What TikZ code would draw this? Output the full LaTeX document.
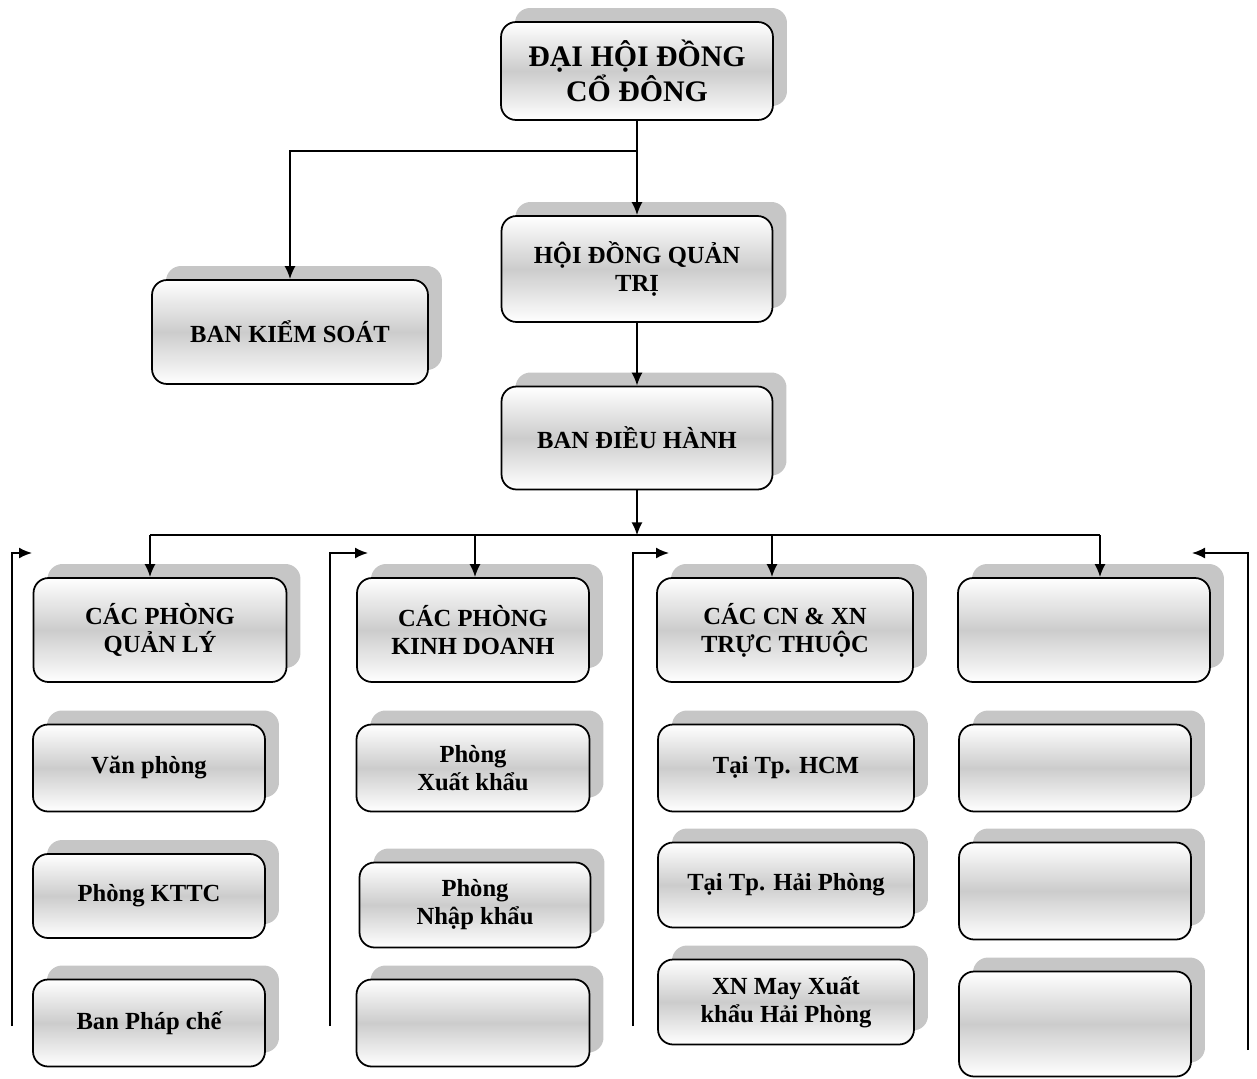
\documentclass[tikz,border=0pt]{standalone}
\usepackage{fontspec}
\setmainfont{Liberation Serif}
\usetikzlibrary{arrows.meta,shadows}
\begin{document}
\begin{tikzpicture}[>={Latex[length=2.6mm,width=2.2mm]},x=0.02cm,y=-0.02cm,line width=1pt]
	\tikzset{
		khung/.style={draw,rounded corners=0.3cm,top color=white,bottom color=white,middle color=gray!40,
			general shadow={shadow xshift=0.28cm,shadow yshift=0.28cm,fill=gray!45},
			font=\bfseries\fontsize{14}{16}\selectfont,align=center,inner sep=2pt},
	}
	\useasboundingbox (0,0) rectangle (1257,1078);
	% cấp trên
	\node[khung,minimum width=5.44cm,minimum height=1.96cm,font=\bfseries\fontsize{17}{20}\selectfont] (dhcd) at (637,71) {ĐẠI HỘI ĐỒNG\\CỔ ĐÔNG};
	\node[khung,minimum width=5.42cm,minimum height=2.12cm] (hdqt) at (637,269) {HỘI ĐỒNG QUẢN\\TRỊ};
	\node[khung,minimum width=5.52cm,minimum height=2.08cm] (bks) at (290,332) {BAN KIỂM SOÁT};
	\node[khung,minimum width=5.42cm,minimum height=2.06cm] (bdh) at (637,438) {BAN ĐIỀU HÀNH};
	% các khối phòng ban
	\node[khung,minimum width=5.06cm,minimum height=2.08cm] (pql) at (160,630) {CÁC PHÒNG\\QUẢN LÝ};
	\node[khung,minimum width=4.64cm,minimum height=2.08cm] (pkd) at (473,630) {CÁC PHÒNG\\KINH DOANH};
	\node[khung,minimum width=5.12cm,minimum height=2.08cm] (pcn) at (785,630) {CÁC CN \& XN\\TRỰC THUỘC};
	\node[khung,minimum width=5.04cm,minimum height=2.08cm] (pkhac) at (1084,630) {};
	% cột 1
	\node[khung,minimum width=4.64cm,minimum height=1.74cm] (vp) at (149,768) {Văn phòng};
	\node[khung,minimum width=4.64cm,minimum height=1.68cm] (kttc) at (149,896) {Phòng KTTC};
	\node[khung,minimum width=4.64cm,minimum height=1.74cm] (bpc) at (149,1023) {Ban Pháp chế};
	% cột 2
	\node[khung,minimum width=4.66cm,minimum height=1.74cm] (pxk) at (473,768) {Phòng\\Xuất khẩu};
	\node[khung,minimum width=4.62cm,minimum height=1.7cm] (pnk) at (475,905) {Phòng\\Nhập khẩu};
	\node[khung,minimum width=4.66cm,minimum height=1.74cm] (pkd3) at (473,1023) {};
	% cột 3
	\node[khung,minimum width=5.12cm,minimum height=1.74cm] (hcm) at (786,768) {Tại Tp. HCM};
	\node[khung,minimum width=5.12cm,minimum height=1.7cm] (hp) at (786,885) {Tại Tp. Hải Phòng};
	\node[khung,minimum width=5.12cm,minimum height=1.7cm] (xnmay) at (786,1002) {XN May Xuất\\khẩu Hải Phòng};
	% cột 4
	\node[khung,minimum width=4.64cm,minimum height=1.74cm] (k1) at (1075,768) {};
	\node[khung,minimum width=4.64cm,minimum height=1.94cm] (k2) at (1075,891) {};
	\node[khung,minimum width=4.64cm,minimum height=2.1cm] (k3) at (1075,1024) {};
	% đường nối
	\draw (dhcd.south) -- ++(0,30) coordinate (r1);
	\draw[->] (r1) -| (bks.north);
	\draw[->] (r1) -- (hdqt.north);
	\draw[->] (hdqt) -- (bdh);
	\draw[->] (bdh.south) -- ++(0,45) coordinate (r2);
	\coordinate (b1) at (150,535);
	\coordinate (b2) at (475,535);
	\coordinate (b3) at (772,535);
	\coordinate (b4) at (1100,535);
	\draw (b1) -- (b4);
	\draw[->] (b1) -- (b1 |- pql.north);
	\draw[->] (b2) -- (b2 |- pkd.north);
	\draw[->] (b3) -- (b3 |- pcn.north);
	\draw[->] (b4) -- (b4 |- pkhac.north);
	% đường phản hồi
	\coordinate (t1) at (12,1026);    \coordinate (d1) at (32,553);
	\coordinate (t2) at (330,1026);   \coordinate (d2) at (368,553);
	\coordinate (t3) at (633,1026);   \coordinate (d3) at (669,553);
	\coordinate (t4) at (1248,1050);  \coordinate (d4) at (1192,553);
	\draw[->] (t1) |- (d1);
	\draw[->] (t2) |- (d2);
	\draw[->] (t3) |- (d3);
	\draw[->] (t4) |- (d4);
\end{tikzpicture}
\end{document}
